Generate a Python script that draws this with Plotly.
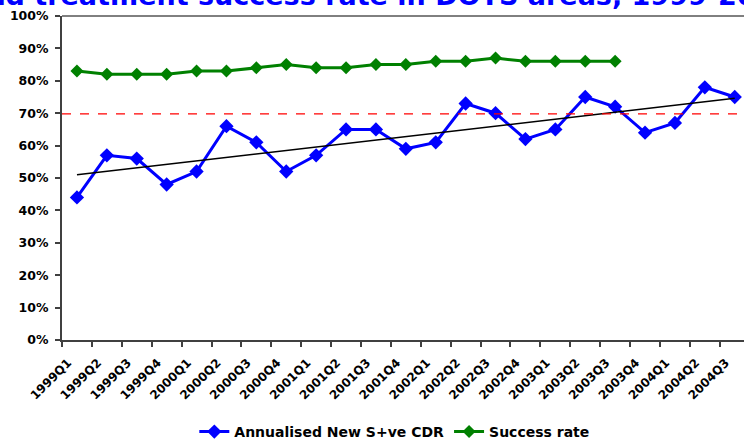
import plotly.graph_objects as go

quarters = ["1999Q1", "1999Q2", "1999Q3", "1999Q4",
            "2000Q1", "2000Q2", "2000Q3", "2000Q4",
            "2001Q1", "2001Q2", "2001Q3", "2001Q4",
            "2002Q1", "2002Q2", "2002Q3", "2002Q4",
            "2003Q1", "2003Q2", "2003Q3", "2003Q4",
            "2004Q1", "2004Q2", "2004Q3"]
cdr = [44, 57, 56, 48, 52, 66, 61, 52, 57, 65, 65, 59,
       61, 73, 70, 62, 65, 75, 72, 64, 67, 78, 75]
success_quarters = quarters[:19]
success = [83, 82, 82, 82, 83, 83, 84, 85, 84, 84, 85, 85,
           86, 86, 87, 86, 86, 86, 86]
trend_quarters = ["1999Q1", "2004Q3"]
trend_values = [51.0, 74.6]
target_level = 69.8

title_text = "Case detection rate and treatment success rate in DOTS areas, 1999-2004"

FONT = "DejaVu Sans"

fig = go.Figure()
fig.add_trace(go.Scatter(
    x=quarters, y=cdr, mode="lines+markers", name="Annualised New S+ve CDR",
    line=dict(color="#0000FF", width=3),
    marker=dict(symbol="diamond", size=11, color="#0000FF"),
))
fig.add_trace(go.Scatter(
    x=success_quarters, y=success, mode="lines+markers", name="Success rate",
    line=dict(color="#008000", width=3),
    marker=dict(symbol="diamond", size=10, color="#008000"),
))
fig.add_trace(go.Scatter(
    x=trend_quarters, y=trend_values, mode="lines", showlegend=False,
    line=dict(color="black", width=1.5), hoverinfo="skip",
))

fig.add_shape(type="line", xref="paper", yref="y", x0=0, x1=1,
              y0=target_level, y1=target_level,
              line=dict(color="#FF0000", width=1.2, dash="dash"))
fig.add_shape(type="line", xref="paper", yref="paper", x0=0, x1=1,
              y0=1, y1=1, line=dict(color="black", width=1))

fig.add_annotation(text=title_text, xref="paper", yref="paper",
                   x=1.075, y=1.008, xanchor="right", yanchor="bottom",
                   showarrow=False,
                   font=dict(family=FONT, size=27, color="#0000FF", weight="bold"))

fig.update_layout(
    width=744, height=443,
    margin=dict(l=62, r=0, t=16, b=103, autoexpand=False),
    plot_bgcolor="white", paper_bgcolor="white",
    font=dict(family=FONT, color="black"),
    showlegend=True,
    legend=dict(orientation="h", xref="container", yref="container",
                x=0.53, y=0.025, xanchor="center", yanchor="middle",
                font=dict(family=FONT, size=14, color="black", weight="bold"),
                itemwidth=30),
)
fig.update_xaxes(
    type="category", range=[-0.5, 22.31], automargin=False,
    showline=True, linecolor="#404040", linewidth=2,
    ticks="outside", ticklen=5, tickcolor="#404040", tickwidth=1.5,
    tickson="boundaries", tickangle=-45,
    ticklabelstandoff=9, ticklabelshift=-9,
    tickfont=dict(family=FONT, size=12, color="black", weight="bold"),
    showgrid=False, zeroline=False,
)
fig.update_yaxes(
    range=[0, 100], dtick=10, ticksuffix="%", automargin=False,
    showline=True, linecolor="#404040", linewidth=2,
    ticks="outside", ticklen=5, tickcolor="#404040", tickwidth=1.5,
    ticklabelstandoff=4,
    tickfont=dict(family=FONT, size=12.5, color="black", weight="bold"),
    showgrid=False, zeroline=False,
)

fig.write_html("out.html", config={"displayModeBar": False},
               post_script="document.body.style.margin='0';")
